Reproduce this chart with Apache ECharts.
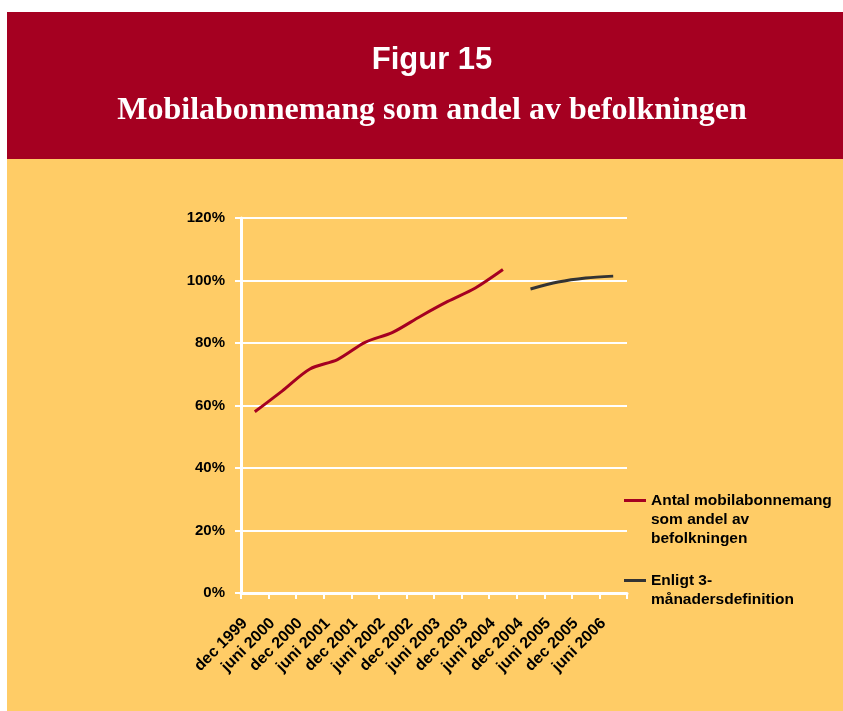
<!DOCTYPE html>
<html>
<head>
<meta charset="utf-8">
<script src="https://cdn.jsdelivr.net/npm/echarts@6/dist/echarts.min.js"></script>
<style>
  html, body { margin: 0; padding: 0; background: #fff; }
  #chart { width: 843px; height: 711px; }
</style>
</head>
<body>
<div id="chart"></div>
<script>
// kategorier (halvår)
const categories = ['dec 1999', 'juni 2000', 'dec 2000', 'juni 2001', 'dec 2001', 'juni 2002', 'dec 2002',
  'juni 2003', 'dec 2003', 'juni 2004', 'dec 2004', 'juni 2005', 'dec 2005', 'juni 2006']

// andel av befolkningen, procent
const antalData = [58.0, 64.7, 71.7, 74.7, 80.2, 83.4, 88.5, 93.3, 97.6, 103.5, null, null, null, null]
const treManaderData = [null, null, null, null, null, null, null, null, null, null, 97.3, 99.5, 100.8, 101.4]

const yTicks = [0, 20, 40, 60, 80, 100, 120]

const seriesNames = ['Antal mobilabonnemang som andel av befolkningen', 'Enligt 3-månadersdefinition']
// tomma rader först så att ikonen hamnar vid första textraden
const legendLabels = ['\n\nAntal mobilabonnemang\nsom andel av\nbefolkningen', '\nEnligt 3-\nmånadersdefinition']

const chart = echarts.init(document.getElementById('chart'))

const labelFont = {
  color: '#000',
  fontFamily: 'Liberation Sans, Arial, sans-serif',
  fontWeight: 'bold',
  fontSize: 15
}

const option = {
  backgroundColor: '#fff',
  animation: false,
  graphic: [
    // rubrikband
    { type: 'rect', left: 7, top: 12, shape: { width: 836, height: 147 }, style: { fill: '#A50021' }, z: -10 },
    // gul bakgrund
    { type: 'rect', left: 7, top: 159, shape: { width: 836, height: 552 }, style: { fill: '#FFCC66' }, z: -10 },
    {
      type: 'text', x: 432, y: 60, z: 10,
      style: {
        text: 'Figur 15', fill: '#fff', align: 'center', verticalAlign: 'middle',
        font: 'bold 31px "Liberation Sans", Arial, sans-serif'
      }
    },
    {
      type: 'text', x: 432, y: 111, z: 10,
      style: {
        text: 'Mobilabonnemang som andel av befolkningen', fill: '#fff', align: 'center', verticalAlign: 'middle',
        font: 'bold 32px "Liberation Serif", "Times New Roman", serif'
      }
    }
  ],
  grid: {
    left: 241,
    right: 216,
    top: 218,
    bottom: 118
  },
  legend: {
    orient: 'vertical',
    left: 619,
    top: 448,
    padding: 5,
    itemGap: 4,
    icon: 'rect',
    itemWidth: 22,
    itemHeight: 3,
    textStyle: { ...labelFont, fontSize: 15.5, lineHeight: 19 },
    formatter: name => legendLabels[seriesNames.indexOf(name)],
    data: seriesNames
  },
  xAxis: {
    type: 'category',
    data: categories,
    boundaryGap: true,
    axisLine: { lineStyle: { color: '#fff', width: 3 } },
    axisTick: { show: true, length: 6, lineStyle: { color: '#fff', width: 2 } },
    axisLabel: { ...labelFont, fontSize: 16, rotate: 45, interval: 0, margin: 18, padding: [0, 14, 0, 0] },
    splitLine: { show: false }
  },
  yAxis: {
    type: 'value',
    min: yTicks[0],
    max: yTicks[yTicks.length - 1],
    interval: 20,
    axisLine: { show: true, lineStyle: { color: '#fff', width: 3 } },
    axisTick: { show: true, length: 6, lineStyle: { color: '#fff', width: 2 } },
    axisLabel: { ...labelFont, margin: 16, formatter: '{value}%' },
    splitLine: { lineStyle: { color: '#fff', width: 2 } }
  },
  series: [
    {
      name: seriesNames[0],
      type: 'line',
      data: antalData,
      smooth: 0.3,
      symbol: 'none',
      connectNulls: false,
      lineStyle: { color: '#A50021', width: 3 },
      itemStyle: { color: '#A50021' }
    },
    {
      name: seriesNames[1],
      type: 'line',
      data: treManaderData,
      smooth: 0.3,
      symbol: 'none',
      connectNulls: false,
      lineStyle: { color: '#333333', width: 3 },
      itemStyle: { color: '#333333' }
    }
  ]
}

chart.setOption(option)
</script>
</body>
</html>
